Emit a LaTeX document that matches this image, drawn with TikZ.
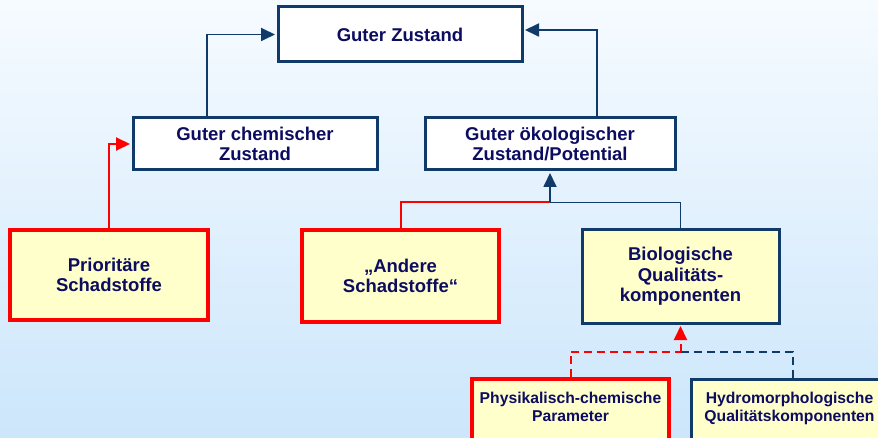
\documentclass[tikz,border=0pt]{standalone}
\usepackage{fontspec}
\setmainfont{Liberation Sans}
\usetikzlibrary{arrows.meta}
\definecolor{navycol}{RGB}{16,58,106}
\definecolor{textcol}{RGB}{12,12,96}
\definecolor{redcol}{RGB}{255,0,0}
\definecolor{fillcol}{RGB}{255,255,204}
\definecolor{bgtop}{RGB}{246,251,255}
\definecolor{bgbot}{RGB}{204,230,251}

\tikzset{
  box/.style={draw=navycol, line width=3pt, fill=white, text=textcol, align=center,
    inner sep=0pt, font=\bfseries\fontsize{18.5}{20.5}\selectfont},
  yellowbox/.style={box, fill=fillcol},
  redbox/.style={yellowbox, draw=redcol, line width=4pt},
  smalltext/.style={font=\bfseries\fontsize{15.7}{18}\selectfont},
  navyline/.style={draw=navycol, line width=1.8pt},
  redline/.style={draw=redcol, line width=2pt},
  tip/.style={-{Triangle[length=14pt,width=13pt]}, shorten >=1.5pt},
  dashline/.style={line width=2pt, dash pattern=on 8pt off 5pt}
}

\begin{document}
\begin{tikzpicture}[x=1pt,y=-1pt]
  \useasboundingbox (0,0) rectangle (878,438);
  \clip (0,0) rectangle (878,438);
  \shade[top color=bgtop, bottom color=bgbot] (0,0) rectangle (878,438);

  % top level
  \node[box, minimum width=244pt, minimum height=55pt] (zustand) at (400,34.5) {Guter Zustand};
  \node[box, minimum width=244pt, minimum height=52pt] (chem) at (255,144) {Guter chemischer\\Zustand};
  \node[box, minimum width=250pt, minimum height=52pt] (oeko) at (550,144) {Guter ökologischer\\Zustand/Potential};

  % middle row
  \node[redbox, minimum width=198pt, minimum height=90pt] (prio) at (109,275) {Prioritäre\\Schadstoffe};
  \node[redbox, minimum width=197pt, minimum height=92pt] (andere) at (400.5,276) {„Andere\\Schadstoffe“};
  \node[yellowbox, minimum width=197pt, minimum height=93pt] (bio) at (680.5,276.5) {Biologische\\Qualitäts-\\komponenten};

  % bottom row (runs off the page)
  \node[redbox, smalltext, minimum width=197pt, minimum height=92pt] (phys) at (570.5,425) {Physikalisch-chemische\\Parameter\\~\\~};
  \node[yellowbox, smalltext, minimum width=197pt, minimum height=92pt] (hydro) at (789.5,425) {Hydromorphologische\\Qualitätskomponenten\\~\\~};

  % connectors
  \draw[navyline, tip] ([xshift=-48pt]chem.north) |- (zustand.west);
  \draw[navyline, tip] ([xshift=47pt]oeko.north) |- ([yshift=4.5pt]zustand.east);
  \draw[redline, tip] (prio.north) |- (chem.west);

  \coordinate (oekojoin) at ([yshift=-31pt]oeko.south);
  \draw[redline] (andere.north) |- (oekojoin);
  \draw[navyline] (bio.north) |- (oekojoin);
  \draw[navyline, tip] (oekojoin) -- (oeko.south);

  \coordinate (biojoin) at ([yshift=-27pt]bio.south);
  \draw[redline, dashline] (phys.north) |- (biojoin);
  \draw[navyline, dashline] ([xshift=3.5pt]hydro.north) |- (biojoin);
  \draw[redline, dashline, tip] (biojoin) -- (bio.south);
\end{tikzpicture}
\end{document}
